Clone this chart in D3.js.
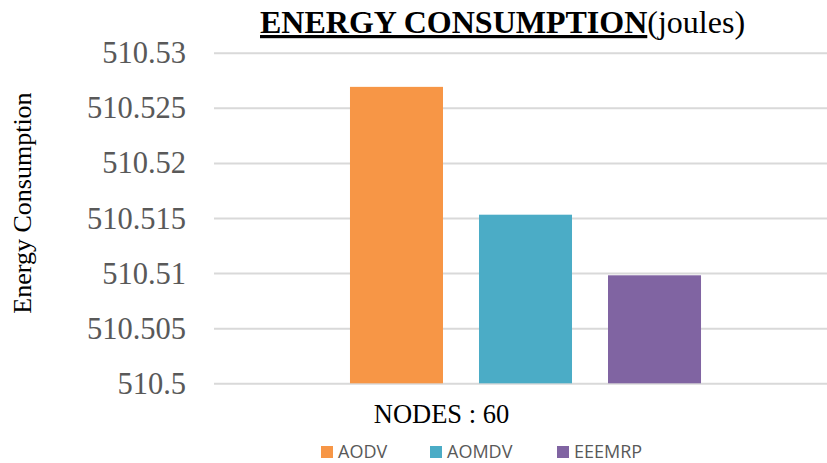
<!DOCTYPE html>
<html>
<head>
<meta charset="utf-8">
<script src="https://cdn.jsdelivr.net/npm/d3@7"></script>
<style>
  html, body { margin: 0; padding: 0; background: #ffffff; }
  svg { display: block; }
</style>
</head>
<body>
<div id="chart"></div>
<script>
// Energy consumption (joules) per routing protocol at 60 nodes
const categories = ["NODES : 60"];
const seriesNames = ["AODV", "AOMDV", "EEEMRP"];
const seriesValues = [510.5269, 510.5153, 510.5098];
const seriesColors = ["#F79646", "#4BACC6", "#8064A2"];
const yTicks = [510.5, 510.505, 510.51, 510.515, 510.52, 510.525, 510.53];
const yTickLabels = ["510.5", "510.505", "510.51", "510.515", "510.52", "510.525", "510.53"];

const W = 827, H = 463;
const plot = { left: 214, right: 837, top: 52.7, bottom: 383.3 };
const serif = "'Liberation Serif', 'Times New Roman', serif";

const svg = d3.select("#chart").append("svg")
  .attr("width", W).attr("height", H);

const y = d3.scaleLinear()
  .domain([yTicks[0], yTicks[yTicks.length - 1]])
  .range([plot.bottom, plot.top]);

const x0 = d3.scaleBand()
  .domain(categories)
  .range([plot.left, plot.right])
  .padding(0);

const x1 = d3.scaleBand()
  .domain(seriesNames)
  .range([0, x0.bandwidth()])
  .paddingInner(0.279)
  .paddingOuter(1.054);

// horizontal gridlines with tick labels
const yAxis = d3.axisLeft(y)
  .tickValues(yTicks)
  .tickFormat((d, i) => yTickLabels[i])
  .tickSize(-(plot.right - plot.left))
  .tickPadding(28);

const gy = svg.append("g")
  .attr("transform", `translate(${plot.left},0)`)
  .call(yAxis);
gy.select(".domain").remove();
gy.selectAll(".tick line")
  .attr("stroke", "#d9d9d9")
  .attr("stroke-width", 2);
gy.selectAll(".tick text")
  .attr("fill", "#595959")
  .attr("font-family", serif)
  .attr("font-size", 30.5)
  .attr("dy", "0.33em");

// bars
const groups = svg.append("g")
  .selectAll("g")
  .data(categories)
  .join("g")
  .attr("transform", d => `translate(${x0(d)},0)`);

groups.selectAll("rect")
  .data(() => seriesNames.map((s, i) => ({ s, v: seriesValues[i], c: seriesColors[i] })))
  .join("rect")
  .attr("x", d => x1(d.s))
  .attr("width", x1.bandwidth())
  .attr("y", d => y(d.v))
  .attr("height", d => y(yTicks[0]) - y(d.v))
  .attr("fill", d => d.c);

// category label
svg.append("text")
  .attr("x", 441.5)
  .attr("y", 423)
  .attr("text-anchor", "middle")
  .attr("font-family", serif)
  .attr("font-size", 26.5)
  .attr("fill", "#000")
  .text(categories[0]);

// title
const title = svg.append("text")
  .attr("x", 260)
  .attr("y", 33)
  .attr("font-family", serif)
  .attr("font-size", 32)
  .attr("fill", "#000");
title.append("tspan")
  .attr("font-weight", "bold")
  .attr("text-decoration", "underline")
  .text("ENERGY CONSUMPTION");
title.append("tspan")
  .text("(joules)");

// y axis title
svg.append("text")
  .attr("transform", `translate(31,203) rotate(-90)`)
  .attr("text-anchor", "middle")
  .attr("font-family", serif)
  .attr("font-size", 26)
  .attr("fill", "#000")
  .text("Energy Consumption");

// legend
const legendX = [321, 430, 557];
const legend = svg.append("g")
  .selectAll("g")
  .data(seriesNames)
  .join("g")
  .attr("transform", (d, i) => `translate(${legendX[i]},446)`);
legend.append("rect")
  .attr("width", 12).attr("height", 12)
  .attr("fill", (d, i) => seriesColors[i]);
legend.append("text")
  .attr("x", 17)
  .attr("y", 11.5)
  .attr("font-family", "'Open Sans', 'Noto Sans', sans-serif")
  .attr("font-size", 18)
  .attr("fill", "#595959")
  .text(d => d);
</script>
</body>
</html>
